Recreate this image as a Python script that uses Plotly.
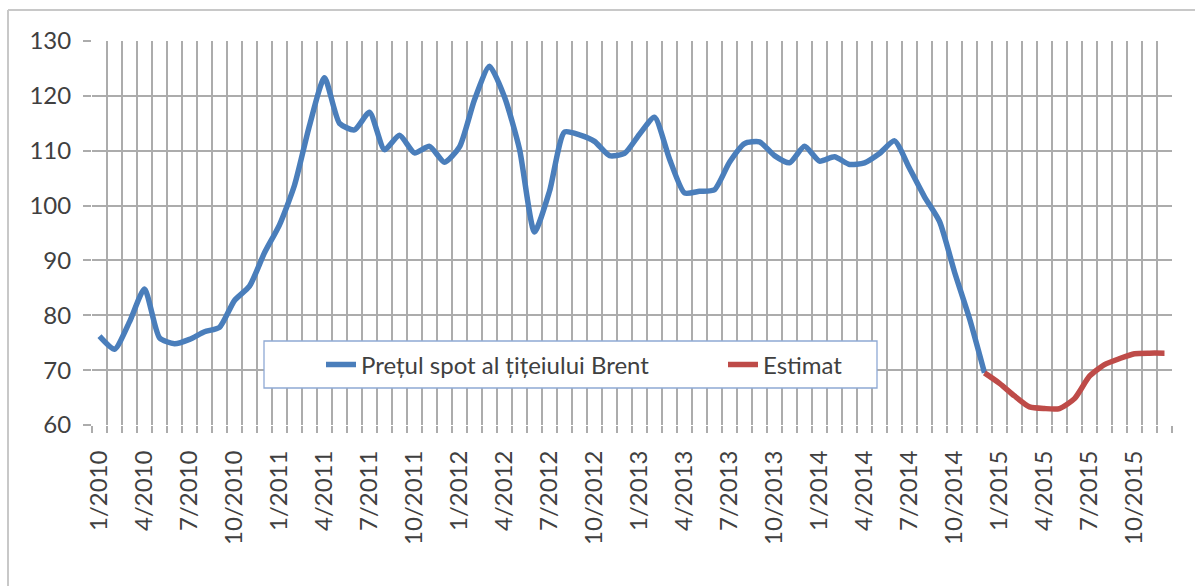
import plotly.graph_objects as go

# Months from 1/2010 to 12/2015
months = [f"{m}/{y}" for y in range(2010, 2016) for m in range(1, 13)]

brent = [
    76.2, 73.8, 78.8, 84.8, 75.9, 74.8, 75.6, 77.0, 77.8, 82.7, 85.3, 91.4,
    96.5, 103.7, 114.6, 123.3, 115.0, 113.8, 117.0, 110.2, 112.8, 109.6, 110.8, 107.9,
    110.7, 119.3, 125.4, 119.8, 110.3, 95.2, 102.6, 113.4, 112.9, 111.7, 109.1, 109.5,
    113.0, 116.1, 108.5, 102.3, 102.6, 102.9, 107.9, 111.3, 111.6, 109.1, 107.8, 110.8,
    108.1, 108.9, 107.5, 107.8, 109.5, 111.8, 106.8, 101.6, 97.1, 87.9, 79.4, 69.5,
]
estimat = [69.5, 67.6, 65.3, 63.3, 63.0, 63.0, 64.8, 68.9, 71.0, 72.1, 73.0, 73.1, 73.1]

series_names = ["Prețul spot al țițeiului Brent", "Estimat"]
y_ticks = [60, 70, 80, 90, 100, 110, 120, 130]

x_brent = list(range(len(brent)))
x_est = list(range(len(brent) - 1, len(brent) - 1 + len(estimat)))

GRID = "#acacac"
TXT = "#404040"
FONT = "Lato"

fig = go.Figure()
fig.add_trace(go.Scatter(x=x_brent, y=brent, mode="lines", name=series_names[0],
                         line=dict(color="#4a7ebb", width=5.5, shape="spline", smoothing=0.6)))
fig.add_trace(go.Scatter(x=x_est, y=estimat, mode="lines", name=series_names[1],
                         line=dict(color="#be4b48", width=5.5, shape="spline", smoothing=0.6)))

W, H = 1195, 586
L, R, T, B = 92, 23, 41, 161
pw, ph = W - L - R, H - T - B


def px(x):
    return (x - L) / pw


def py(y):
    return (H - B - y) / ph


fig.update_layout(
    width=W, height=H,
    margin=dict(l=L, r=R, t=T, b=B, autoexpand=False),
    paper_bgcolor="white", plot_bgcolor="white",
    font=dict(family=FONT, size=24, color=TXT),
    showlegend=True,
    legend=dict(orientation="h", x=px(321), xanchor="left", y=py(365), yanchor="middle",
                bgcolor="rgba(0,0,0,0)", borderwidth=0,
                font=dict(family=FONT, size=24, color=TXT),
                entrywidth=357, entrywidthmode="pixels"),
    xaxis=dict(
        automargin=False,
        range=[-0.5, len(months) - 0.5],
        tickmode="array",
        tickvals=list(range(0, len(months), 3)),
        ticktext=months[::3],
        tickangle=-90,
        showgrid=False, zeroline=False,
        ticks="outside", ticklen=15, tickcolor="rgba(0,0,0,0)",
        tickfont=dict(family=FONT, size=24, color=TXT),
        minor=dict(tickmode="array", tickvals=[i - 0.5 for i in range(len(months) + 1)],
                   showgrid=True, gridcolor=GRID, gridwidth=1.6,
                   ticks="outside", ticklen=7, tickcolor=GRID, tickwidth=1.6),
    ),
    yaxis=dict(
        automargin=False,
        range=[60, 130],
        tickmode="array", tickvals=y_ticks,
        showgrid=True, gridcolor=GRID, gridwidth=1.6, zeroline=False,
        ticks="outside", ticklen=8, tickcolor=GRID, tickwidth=1.6,
        ticklabelstandoff=7,
        tickfont=dict(family=FONT, size=24, color=TXT),
    ),
    shapes=[
        dict(type="rect", xref="paper", yref="paper",
             x0=px(264), x1=px(877), y0=py(388), y1=py(341),
             fillcolor="white", line=dict(color="#8fa9d4", width=1.3), layer="above"),
        dict(type="line", xref="paper", yref="paper",
             x0=px(8), x1=px(1200), y0=py(10), y1=py(10),
             line=dict(color="#c8c8c8", width=2)),
        dict(type="line", xref="paper", yref="paper",
             x0=px(8), x1=px(8), y0=py(10), y1=py(600),
             line=dict(color="#c8c8c8", width=2)),
    ],
)

fig.write_html("out.html", config={"displayModeBar": False},
               post_script="document.body.style.margin='0';document.body.style.overflow='hidden';")
